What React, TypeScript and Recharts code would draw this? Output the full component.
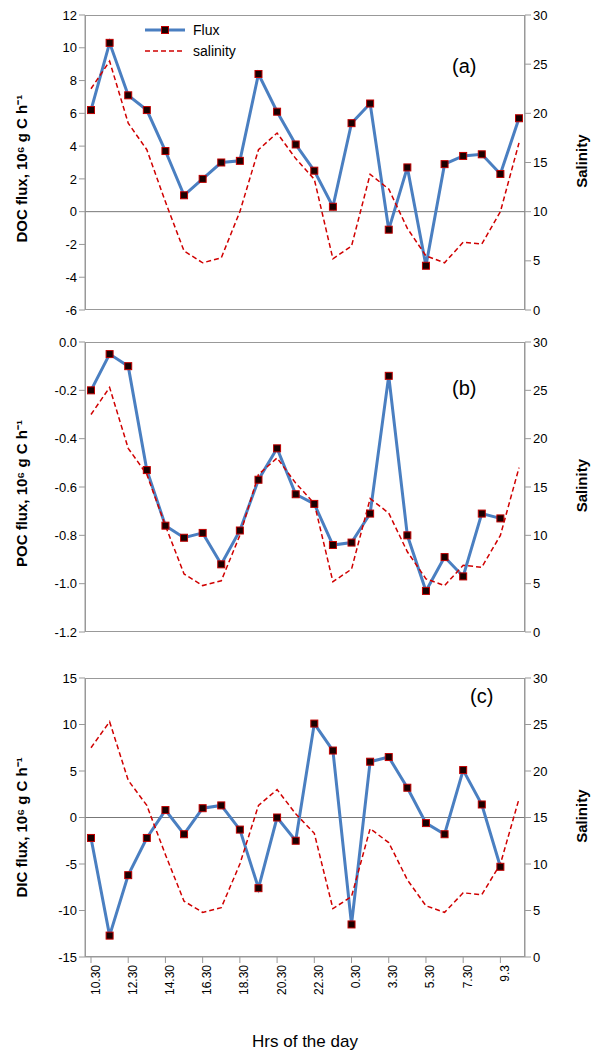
import { ComposedChart, Line, XAxis, YAxis, ReferenceLine } from 'recharts';

const hours = ['10.30', '11.30', '12.30', '13.30', '14.30', '15.30', '16.30', '17.30', '18.30', '19.30', '20.30', '21.30',
  '22.30', '23.30', '0.30', '1.30', '3.30', '4.30', '5.30', '6.30', '7.30', '8.30', '9.3', '10.3'];
const salinity = [22.5, 25.3, 19, 16.3, 11, 6, 4.8, 5.3, 10, 16.3, 18, 15.4, 13.3, 5.2, 6.5, 13.8, 12.3, 8.3, 5.5, 4.8, 6.9, 6.7, 10, 17];
const docFlux = [6.2, 10.3, 7.1, 6.2, 3.7, 1.0, 2.0, 3.0, 3.1, 8.4, 6.1, 4.1, 2.5, 0.3, 5.4, 6.6, -1.1, 2.7, -3.3, 2.9, 3.4, 3.5, 2.3, 5.7];
const pocFlux = [-0.2, -0.05, -0.1, -0.53, -0.76, -0.81, -0.79, -0.92, -0.78, -0.57, -0.44, -0.63, -0.67, -0.84, -0.83, -0.71, -0.14, -0.8, -1.03, -0.89, -0.97, -0.71, -0.73, null];
const dicFlux = [-2.2, -12.7, -6.2, -2.2, 0.8, -1.8, 1.0, 1.3, -1.3, -7.6, 0, -2.5, 10.1, 7.2, -11.5, 6.0, 6.5, 3.2, -0.6, -1.8, 5.1, 1.4, -5.3, null];

const font = '"Liberation Sans", Arial, sans-serif';
const tick = { fill: '#000', fontSize: 13, fontFamily: font };

const Sq = (p: any) => p.cx == null || p.value == null ? null :
  <rect x={p.cx - 3.5} y={p.cy - 3.5} width={7} height={7} fill="#1a0000" stroke="#c00000" strokeWidth={1} />;

function LegendBox() {
  return (
    <div style={{ position: 'absolute', left: 145, top: 20, fontFamily: font, fontSize: 14, lineHeight: '20px' }}>
      <svg width={150} height={42} style={{ position: 'absolute', left: 0, top: 0 }}>
        <line x1={0} y1={10} x2={40} y2={10} stroke="#4a7fc1" strokeWidth={3} />
        <rect x={16.5} y={6.5} width={7} height={7} fill="#1a0000" stroke="#c00000" />
        <line x1={0} y1={31} x2={40} y2={31} stroke="#d00000" strokeWidth={1.5} strokeDasharray="5 3" />
      </svg>
      <div style={{ position: 'absolute', left: 48, top: 0, whiteSpace: 'nowrap' }}>Flux</div>
      <div style={{ position: 'absolute', left: 48, top: 21, whiteSpace: 'nowrap' }}>salinity</div>
    </div>
  );
}

function Panel({ top, height, flux, domain, ticks, fmt, label, axisLabel, zeroLine, bottomAxis, legend }: any) {
  const data = hours.map((h, i) => ({ h, flux: flux[i], sal: salinity[i] }));
  const mb = bottomAxis ? 40 : 10;
  const plotH = height - 15 - mb - (bottomAxis ? 55 : 0);
  return (
    <div style={{ position: 'absolute', top, left: 0, width: 610, height }}>
      <div style={{ position: 'absolute', left: 85, top: 15, width: 440, height: plotH, border: '1px solid #999', boxSizing: 'border-box' }} />
      <ComposedChart width={610} height={height} data={data} margin={{ top: 15, right: 0, bottom: mb, left: 0 }}>
        <XAxis dataKey="h" hide={!bottomAxis} interval={1} angle={-90} textAnchor="end" height={55}
          tick={{ ...tick, fontSize: 12 }} axisLine={{ stroke: '#999' }} tickLine={{ stroke: '#999' }}
          padding={{ left: 6, right: 6 }}
          label={bottomAxis ? { value: 'Hrs of the day', position: 'insideBottom', offset: -35, fill: '#000', fontSize: 17, fontFamily: font } : undefined} />
        <YAxis yAxisId="l" width={85} domain={domain} ticks={ticks} tickFormatter={fmt} tick={tick}
          axisLine={{ stroke: '#999' }} tickLine={{ stroke: '#999' }}
          label={{ value: axisLabel, angle: -90, position: 'insideLeft', offset: 22, dy: 80, fill: '#000', fontSize: 15, fontWeight: 'bold', fontFamily: font }} />
        <YAxis yAxisId="r" orientation="right" width={85} domain={[0, 30]} ticks={[0, 5, 10, 15, 20, 25, 30]} tick={tick}
          axisLine={{ stroke: '#999' }} tickLine={{ stroke: '#999' }}
          label={{ value: 'Salinity', angle: -90, position: 'insideRight', offset: 28, dy: -28, fill: '#000', fontSize: 15, fontWeight: 'bold', fontFamily: font }} />
        {zeroLine && <ReferenceLine yAxisId="l" y={0} stroke="#777" />}
        <Line yAxisId="l" dataKey="flux" name="Flux" stroke="#4a7fc1" strokeWidth={3} dot={<Sq />} isAnimationActive={false} />
        <Line yAxisId="r" dataKey="sal" name="salinity" stroke="#d00000" strokeWidth={1.5} strokeDasharray="5 3" dot={false} isAnimationActive={false} />
      </ComposedChart>
      {legend && <LegendBox />}
      <div style={{ position: 'absolute', left: label.x, top: label.y, fontFamily: font, fontSize: 20 }}>{label.t}</div>
    </div>
  );
}

export default function App() {
  return (
    <div style={{ position: 'absolute', left: 0, top: 0, width: 610, height: 1052, background: '#fff' }}>
      <Panel top={0} height={320} flux={docFlux} domain={[-6, 12]} ticks={[-6, -4, -2, 0, 2, 4, 6, 8, 10, 12]}
        label={{ t: '(a)', x: 452, y: 55 }} axisLabel="DOC flux, 10⁶ g C h⁻¹" zeroLine legend />
      <Panel top={327} height={315} flux={pocFlux} domain={[-1.2, 0]} ticks={[-1.2, -1.0, -0.8, -0.6, -0.4, -0.2, 0]}
        fmt={(v: number) => v.toFixed(1)} label={{ t: '(b)', x: 452, y: 50 }} axisLabel="POC flux, 10⁶ g C h⁻¹" />
      <Panel top={663} height={389} flux={dicFlux} domain={[-15, 15]} ticks={[-15, -10, -5, 0, 5, 10, 15]}
        label={{ t: '(c)', x: 470, y: 22 }} axisLabel="DIC flux, 10⁶ g C h⁻¹" zeroLine bottomAxis />
    </div>
  );
}
